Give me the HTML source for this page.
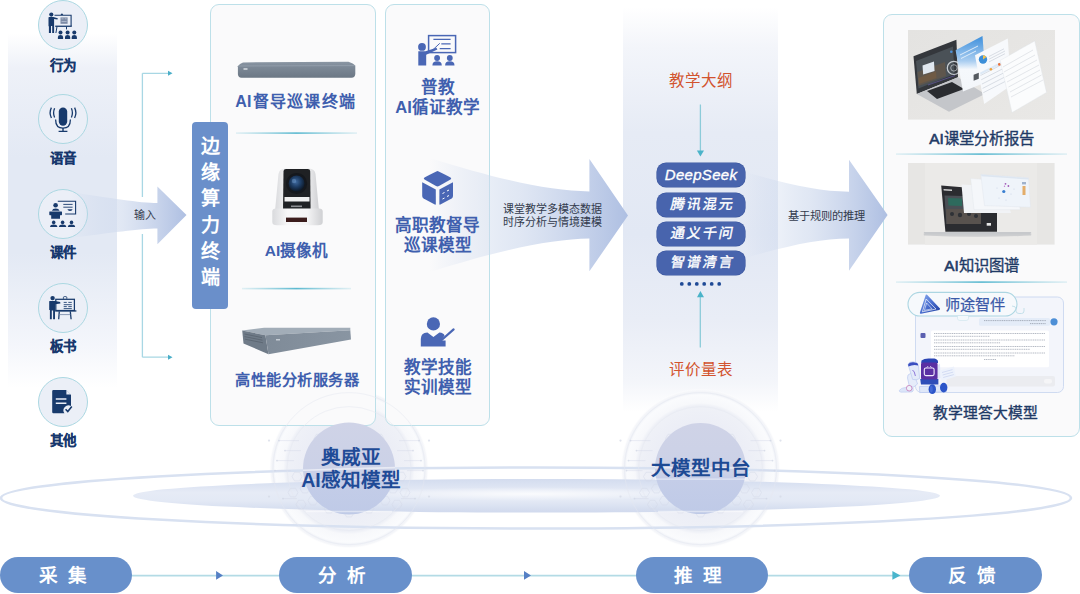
<!DOCTYPE html>
<html lang="zh-CN">
<head>
<meta charset="utf-8">
<style>
*{margin:0;padding:0;box-sizing:border-box;}
html,body{width:1080px;height:594px;overflow:hidden;background:#fff;}
body{position:relative;font-family:"Liberation Sans",sans-serif;}
.a{position:absolute;}
.t{position:absolute;white-space:nowrap;line-height:1;}
.lbl{font-size:13.5px;font-weight:700;color:#17376d;-webkit-text-stroke:0.15px #17376d;text-align:center;width:60px;}
.circ{position:absolute;width:50px;height:50px;border-radius:50%;background:#ebeff7;border:1.8px solid #abd8e2;}
.box{position:absolute;border:1.5px solid #bde0e9;border-radius:9px;background:#fafafb;}
.dev{font-size:15.5px;font-weight:700;color:#3f5fae;text-align:center;}
.mdl{font-size:16.6px;font-weight:700;color:#3f5fae;text-align:center;line-height:20.6px;}
.pill{position:absolute;left:657px;width:88px;height:24px;border-radius:9px;background:#4864ad;color:#fff;font-size:14px;font-weight:400;text-align:center;line-height:22.5px;letter-spacing:2px;text-indent:2px;-webkit-text-stroke:0.4px #fff;box-shadow:0 0 0 0.6px #3d58a0;}
.pill span{display:inline-block;transform:skewX(-11deg);}
.stage{position:absolute;top:557px;height:36px;border-radius:18px;background:#6890cb;color:#fff;font-size:18.5px;font-weight:700;text-align:center;line-height:38.5px;letter-spacing:10px;text-indent:3.4px;}
.rt{font-size:14.5px;font-weight:400;color:#1f3a66;text-align:center;-webkit-text-stroke:0.35px #1f3a66;}
.rt b{font-weight:400;-webkit-text-stroke:0.6px #1f3a66;}
</style>
</head>
<body>

<!-- left panel gradient -->
<div class="a" style="left:8px;top:33px;width:109px;height:355px;background:linear-gradient(to bottom,#ffffff 0%,#eef1f8 10%,#e3e9f4 35%,#e3e9f4 62%,#f4f6fb 88%,#ffffff 100%);"></div>

<!-- center panel gradient -->
<div class="a" style="left:623px;top:7px;width:155px;height:405px;background:linear-gradient(to bottom,#ffffff 0%,#f3f5fa 10%,#e6ebf5 31%,#e2e8f4 56%,#e9edf6 77%,#f3f5fa 92%,#ffffff 100%);"></div>

<!-- circles -->
<div class="circ" style="left:37.7px;top:-0.2px;"></div>
<div class="circ" style="left:37.7px;top:94.4px;"></div>
<div class="circ" style="left:37.7px;top:189px;"></div>
<div class="circ" style="left:37.7px;top:282.5px;"></div>
<div class="circ" style="left:37.7px;top:376.5px;"></div>

<div class="t lbl" style="left:33px;top:58.5px;">行为</div>
<div class="t lbl" style="left:33px;top:151.5px;">语音</div>
<div class="t lbl" style="left:33px;top:245.5px;">课件</div>
<div class="t lbl" style="left:33px;top:339.5px;">板书</div>
<div class="t lbl" style="left:33px;top:433.5px;">其他</div>


<!-- glow behind boxes -->
<svg class="a" style="left:0;top:0" width="1080" height="594" viewBox="0 0 1080 594">
<defs>
 <radialGradient id="glow0" cx="0.5" cy="0.5" r="0.5">
  <stop offset="0.58" stop-color="#eceef6"/>
  <stop offset="0.79" stop-color="#eff1f7"/>
  <stop offset="0.82" stop-color="#f7f8fb"/>
  <stop offset="0.92" stop-color="#fafbfd"/>
  <stop offset="0.95" stop-color="#f1f3f8"/>
  <stop offset="0.975" stop-color="#f6f7fa"/>
  <stop offset="1" stop-color="#ffffff" stop-opacity="0"/>
 </radialGradient>
</defs>
<circle cx="349" cy="468.6" r="80" fill="url(#glow0)"/>
<circle cx="700.5" cy="468.6" r="80" fill="url(#glow0)"/>
</svg>
<!-- boxes -->
<div class="box" style="left:209.5px;top:4px;width:166px;height:422px;"></div>
<div class="box" style="left:385px;top:4px;width:105px;height:422px;"></div>
<div class="box" style="left:883px;top:14px;width:197px;height:423px;"></div>

<!-- bottom rings (above boxes) -->
<svg class="a" style="left:0;top:0" width="1080" height="594" viewBox="0 0 1080 594">
<defs>
 <linearGradient id="orbg" x1="0" y1="0" x2="0" y2="1">
  <stop offset="0" stop-color="#cfd3e7"/>
  <stop offset="0.55" stop-color="#cbd1e7"/>
  <stop offset="0.62" stop-color="#c4cde8"/>
  <stop offset="1" stop-color="#bfcae7"/>
 </linearGradient>
 <linearGradient id="discg" x1="0" y1="0" x2="0" y2="1">
  <stop offset="0" stop-color="#d3dcef"/>
  <stop offset="0.4" stop-color="#e6ebf6"/>
  <stop offset="0.65" stop-color="#e3e9f5"/>
  <stop offset="1" stop-color="#d0d9ed"/>
 </linearGradient>
 <radialGradient id="hl" cx="0.5" cy="0.5" r="0.5">
  <stop offset="0" stop-color="#ffffff" stop-opacity="0.8"/>
  <stop offset="1" stop-color="#ffffff" stop-opacity="0"/>
 </radialGradient>
 <radialGradient id="glow" cx="0.5" cy="0.5" r="0.5">
  <stop offset="0.6" stop-color="#eef0f7"/>
  <stop offset="0.8" stop-color="#f1f3f8"/>
  <stop offset="0.82" stop-color="#f6f7fb"/>
  <stop offset="0.97" stop-color="#f8f9fc"/>
  <stop offset="1" stop-color="#ffffff" stop-opacity="0"/>
 </radialGradient>
</defs>
<ellipse cx="536.5" cy="495.8" rx="403.5" ry="16.8" fill="url(#discg)"/>
<ellipse cx="530" cy="494" rx="170" ry="7" fill="url(#hl)"/>
<ellipse cx="536" cy="498" rx="535" ry="30.5" fill="none" stroke="#d8e1f1" stroke-width="2.6"/>
<g fill="none" stroke="#e6e9f2" stroke-width="1" opacity="0.5">
 <circle cx="349" cy="468.6" r="62"/><circle cx="349" cy="468.6" r="76"/>
 <circle cx="700.5" cy="468.6" r="62"/><circle cx="700.5" cy="468.6" r="76"/>
</g>
<g fill="none" stroke="#d3d9e7" stroke-width="0.6" opacity="0.75">
<polygon points="302.0,476.6 299.5,480.9 294.5,480.9 292.0,476.6 294.5,472.3 299.5,472.3"/>
<polygon points="310.0,488.6 307.5,492.9 302.5,492.9 300.0,488.6 302.5,484.3 307.5,484.3"/>
<polygon points="298.0,492.6 295.5,496.9 290.5,496.9 288.0,492.6 290.5,488.3 295.5,488.3"/>
<polygon points="318.0,500.6 315.5,504.9 310.5,504.9 308.0,500.6 310.5,496.3 315.5,496.3"/>
<polygon points="306.0,504.6 303.5,508.9 298.5,508.9 296.0,504.6 298.5,500.3 303.5,500.3"/>
<polygon points="398.0,488.6 395.5,492.9 390.5,492.9 388.0,488.6 390.5,484.3 395.5,484.3"/>
<polygon points="406.0,476.6 403.5,480.9 398.5,480.9 396.0,476.6 398.5,472.3 403.5,472.3"/>
<polygon points="410.0,492.6 407.5,496.9 402.5,496.9 400.0,492.6 402.5,488.3 407.5,488.3"/>
<polygon points="390.0,500.6 387.5,504.9 382.5,504.9 380.0,500.6 382.5,496.3 387.5,496.3"/>
<polygon points="402.0,504.6 399.5,508.9 394.5,508.9 392.0,504.6 394.5,500.3 399.5,500.3"/>
<polygon points="334.0,508.6 331.5,512.9 326.5,512.9 324.0,508.6 326.5,504.3 331.5,504.3"/>
<polygon points="374.0,508.6 371.5,512.9 366.5,512.9 364.0,508.6 366.5,504.3 371.5,504.3"/>
<polygon points="354.0,512.6 351.5,516.9 346.5,516.9 344.0,512.6 346.5,508.3 351.5,508.3"/>
<polygon points="324.0,438.6 321.5,442.9 316.5,442.9 314.0,438.6 316.5,434.3 321.5,434.3"/>
<polygon points="384.0,438.6 381.5,442.9 376.5,442.9 374.0,438.6 376.5,434.3 381.5,434.3"/>
<polygon points="653.5,476.6 651.0,480.9 646.0,480.9 643.5,476.6 646.0,472.3 651.0,472.3"/>
<polygon points="661.5,488.6 659.0,492.9 654.0,492.9 651.5,488.6 654.0,484.3 659.0,484.3"/>
<polygon points="649.5,492.6 647.0,496.9 642.0,496.9 639.5,492.6 642.0,488.3 647.0,488.3"/>
<polygon points="669.5,500.6 667.0,504.9 662.0,504.9 659.5,500.6 662.0,496.3 667.0,496.3"/>
<polygon points="657.5,504.6 655.0,508.9 650.0,508.9 647.5,504.6 650.0,500.3 655.0,500.3"/>
<polygon points="749.5,488.6 747.0,492.9 742.0,492.9 739.5,488.6 742.0,484.3 747.0,484.3"/>
<polygon points="757.5,476.6 755.0,480.9 750.0,480.9 747.5,476.6 750.0,472.3 755.0,472.3"/>
<polygon points="761.5,492.6 759.0,496.9 754.0,496.9 751.5,492.6 754.0,488.3 759.0,488.3"/>
<polygon points="741.5,500.6 739.0,504.9 734.0,504.9 731.5,500.6 734.0,496.3 739.0,496.3"/>
<polygon points="753.5,504.6 751.0,508.9 746.0,508.9 743.5,504.6 746.0,500.3 751.0,500.3"/>
<polygon points="685.5,508.6 683.0,512.9 678.0,512.9 675.5,508.6 678.0,504.3 683.0,504.3"/>
<polygon points="725.5,508.6 723.0,512.9 718.0,512.9 715.5,508.6 718.0,504.3 723.0,504.3"/>
<polygon points="705.5,512.6 703.0,516.9 698.0,516.9 695.5,512.6 698.0,508.3 703.0,508.3"/>
<polygon points="675.5,438.6 673.0,442.9 668.0,442.9 665.5,438.6 668.0,434.3 673.0,434.3"/>
<polygon points="735.5,438.6 733.0,442.9 728.0,442.9 725.5,438.6 728.0,434.3 733.0,434.3"/>
<path d="M299.0 440.6 H279.0"/>
<circle cx="279.0" cy="440.6" r="0.9" fill="#d0d6e4" stroke="none"/>
<path d="M301.0 450.6 H285.0"/>
<circle cx="285.0" cy="450.6" r="0.9" fill="#d0d6e4" stroke="none"/>
<path d="M294.0 460.6 H277.0"/>
<circle cx="277.0" cy="460.6" r="0.9" fill="#d0d6e4" stroke="none"/>
<path d="M291.0 470.6 H275.0"/>
<circle cx="275.0" cy="470.6" r="0.9" fill="#d0d6e4" stroke="none"/>
<path d="M297.0 498.6 H283.0"/>
<circle cx="283.0" cy="498.6" r="0.9" fill="#d0d6e4" stroke="none"/>
<path d="M399.0 440.6 H419.0"/>
<circle cx="419.0" cy="440.6" r="0.9" fill="#d0d6e4" stroke="none"/>
<path d="M397.0 450.6 H413.0"/>
<circle cx="413.0" cy="450.6" r="0.9" fill="#d0d6e4" stroke="none"/>
<path d="M404.0 460.6 H421.0"/>
<circle cx="421.0" cy="460.6" r="0.9" fill="#d0d6e4" stroke="none"/>
<path d="M407.0 470.6 H423.0"/>
<circle cx="423.0" cy="470.6" r="0.9" fill="#d0d6e4" stroke="none"/>
<path d="M401.0 498.6 H415.0"/>
<circle cx="415.0" cy="498.6" r="0.9" fill="#d0d6e4" stroke="none"/>
<circle cx="269.0" cy="440.6" r="1.1" fill="#d6dbe7" stroke="none"/>
<circle cx="429.0" cy="440.6" r="1.1" fill="#d6dbe7" stroke="none"/>
<circle cx="269.0" cy="496.6" r="1.1" fill="#d6dbe7" stroke="none"/>
<circle cx="429.0" cy="496.6" r="1.1" fill="#d6dbe7" stroke="none"/>
<path d="M650.5 440.6 H630.5"/>
<circle cx="630.5" cy="440.6" r="0.9" fill="#d0d6e4" stroke="none"/>
<path d="M652.5 450.6 H636.5"/>
<circle cx="636.5" cy="450.6" r="0.9" fill="#d0d6e4" stroke="none"/>
<path d="M645.5 460.6 H628.5"/>
<circle cx="628.5" cy="460.6" r="0.9" fill="#d0d6e4" stroke="none"/>
<path d="M642.5 470.6 H626.5"/>
<circle cx="626.5" cy="470.6" r="0.9" fill="#d0d6e4" stroke="none"/>
<path d="M648.5 498.6 H634.5"/>
<circle cx="634.5" cy="498.6" r="0.9" fill="#d0d6e4" stroke="none"/>
<path d="M750.5 440.6 H770.5"/>
<circle cx="770.5" cy="440.6" r="0.9" fill="#d0d6e4" stroke="none"/>
<path d="M748.5 450.6 H764.5"/>
<circle cx="764.5" cy="450.6" r="0.9" fill="#d0d6e4" stroke="none"/>
<path d="M755.5 460.6 H772.5"/>
<circle cx="772.5" cy="460.6" r="0.9" fill="#d0d6e4" stroke="none"/>
<path d="M758.5 470.6 H774.5"/>
<circle cx="774.5" cy="470.6" r="0.9" fill="#d0d6e4" stroke="none"/>
<path d="M752.5 498.6 H766.5"/>
<circle cx="766.5" cy="498.6" r="0.9" fill="#d0d6e4" stroke="none"/>
<circle cx="620.5" cy="440.6" r="1.1" fill="#d6dbe7" stroke="none"/>
<circle cx="780.5" cy="440.6" r="1.1" fill="#d6dbe7" stroke="none"/>
<circle cx="620.5" cy="496.6" r="1.1" fill="#d6dbe7" stroke="none"/>
<circle cx="780.5" cy="496.6" r="1.1" fill="#d6dbe7" stroke="none"/>
</g>
<circle cx="349" cy="468.6" r="46" fill="url(#orbg)"/>
<circle cx="700.5" cy="468.6" r="45.5" fill="url(#orbg)"/>
<g stroke="#ffffff" fill="none">
 <path d="M303 470.2 Q349 468.6 395 467.6 M655 467.8 Q700 467.6 746 468" stroke-opacity="0.55" stroke-width="1.6"/>
 <path d="M303 479.8 H395 M655 479.2 H746" stroke-opacity="0.5" stroke-width="1.3"/>
 <path d="M306 511.5 H392 M658 511.5 H743" stroke-opacity="0.45" stroke-width="1.4"/>
</g>
</svg>

<!-- main svg -->
<svg class="a" style="left:0;top:0" width="1080" height="594" viewBox="0 0 1080 594">
<defs>
 <linearGradient id="ag" x1="0" x2="1" y1="0" y2="0">
  <stop offset="0" stop-color="#c3d1ea" stop-opacity="0"/>
  <stop offset="0.45" stop-color="#d3ddef" stop-opacity="0.7"/>
  <stop offset="1" stop-color="#aebfe2"/>
 </linearGradient>
 <linearGradient id="dg" x1="0" x2="1">
  <stop offset="0" stop-color="#7cc6d8" stop-opacity="0.2"/>
  <stop offset="0.5" stop-color="#5bb9d0"/>
  <stop offset="1" stop-color="#7cc6d8" stop-opacity="0.2"/>
 </linearGradient>
</defs>
<!-- connector -->
<g stroke="#a8d7e4" stroke-width="1.3" fill="none">
 <path d="M142.4 73.3 V197 M142.4 234 V357.2 M142.4 73.3 H169 M142.4 357.2 H169"/>
</g>
<path d="M168 70.8 L172.5 73.3 L168 75.8Z M168 354.7 L172.5 357.2 L168 359.7Z" fill="#4aaec8"/>

<!-- arrow 1 -->
<path d="M70 192 C110 198,140 203,157.4 203 L157.4 186.4 L186.5 215 L157.4 244.2 L157.4 228.5 C140 228.5,110 233,70 238Z" fill="url(#ag)"/>
<!-- arrow 2 -->
<path d="M430 158 C500 180,550 191,589.4 191.5 L589.4 158.9 L628 215.5 L589.4 271.3 L589.4 238.4 C550 239,500 250,430 272Z" fill="url(#ag)"/>
<!-- arrow 3 -->
<path d="M745 172 C790 185,820 191.5,849 191.7 L849 159.7 L887.6 215 L849 270.7 L849 238.4 C820 238.6,790 245,745 258Z" fill="url(#ag)"/>

<!-- dividers box1 -->
<rect x="236" y="132.3" width="121" height="1.6" fill="url(#dg)"/>
<rect x="242" y="287.8" width="109" height="1.6" fill="url(#dg)"/>
<!-- dividers right -->
<rect x="896" y="153.3" width="171" height="1.6" fill="url(#dg)"/>
<rect x="896" y="281.3" width="171" height="1.6" fill="url(#dg)"/>

<!-- center arrows -->
<path d="M700.4 104.5 V151" stroke="#8ccbd9" stroke-width="1.3"/>
<path d="M696.9 150.6 L704 150.6 L700.4 156.6Z" fill="#4ab3c9"/>
<path d="M700.3 297 V347.6" stroke="#8ccbd9" stroke-width="1.3"/>
<path d="M697 297.3 L704 297.3 L700.4 290.9Z" fill="#4ab3c9"/>
<g fill="#1f4a96">
 <circle cx="681.8" cy="283.9" r="1.9"/><circle cx="689.3" cy="283.9" r="1.9"/><circle cx="696.8" cy="283.9" r="1.9"/>
 <circle cx="704.2" cy="283.9" r="1.9"/><circle cx="711.7" cy="283.9" r="1.9"/><circle cx="719.2" cy="283.9" r="1.9"/>
</g>

<!-- bottom line -->
<path d="M130 575.6 H910" stroke="#b3dbe5" stroke-width="1.8"/>
<path d="M216.1 571.1 L223 575.4 L216.1 579.7Z M524 571.1 L531 575.4 L524 579.7Z" fill="#5580c5"/>
<path d="M892.4 571.1 L900.4 575.4 L892.4 579.7Z" fill="#49b5cc"/>
</svg>


<!-- icons svg -->
<svg class="a" style="left:0;top:0" width="1080" height="594" viewBox="0 0 1080 594">
<g fill="#183a6c">
 <!-- icon1 behaviour -->
 <circle cx="51.3" cy="14.6" r="2.1"/>
 <path d="M48.5 17.4 Q48.5 16.9 49.2 16.9 H53.4 L57.8 18.2 L57.5 19.4 L54.1 19 V33 H52.2 V26 H51 V33 H48.9 V26.5 L48.5 26Z"/>
 <path d="M54.5 15.3 H71.1 V25.9" fill="none" stroke="#183a6c" stroke-width="1.1"/>
 <rect x="55.2" y="25.6" width="16.6" height="1.3"/>
 <path d="M60.6 15 Q61.9 12.2 63.2 15Z"/>
 <rect x="60.5" y="17.4" width="7.1" height="6.4" fill="#7d8ba6"/>
 <path d="M61.5 18.8 H63.5 M64.8 18.8 H66.6 M61.5 21.5 H66.6" stroke="#b8c2d4" stroke-width="0.8"/>
 <path d="M57 26.6 L55.9 33 M66.5 26.6 V29.4" stroke="#183a6c" stroke-width="1" fill="none"/>
 <circle cx="60.5" cy="32.6" r="2"/><circle cx="67.6" cy="32.6" r="2"/><circle cx="74.3" cy="32.6" r="2"/>
 <path d="M57.9 39 V37 Q57.9 35 60.5 35 Q63.1 35 63.1 37 V39Z M65 39 V37 Q65 35 67.6 35 Q70.2 35 70.2 37 V39Z M71.7 39 V37 Q71.7 35 74.3 35 Q76.9 35 76.9 37 V39Z"/>
 <!-- icon2 mic -->
 <rect x="58.8" y="107.4" width="8.4" height="18.4" rx="4.2"/>
 <path d="M55.6 119.5 Q55.6 128.2 63 128.2 Q70.4 128.2 70.4 119.5" fill="none" stroke="#183a6c" stroke-width="1.3"/>
 <path d="M63 128 V131 M58.6 131.4 H67.4" stroke="#183a6c" stroke-width="1.4"/>
 <path d="M54.6 108.2 Q52.6 112.8 54.6 117.4 M51.4 107.6 Q48.8 112.8 51.4 118 M71.4 108.2 Q73.4 112.8 71.4 117.4 M74.6 107.6 Q77.2 112.8 74.6 118" fill="none" stroke="#183a6c" stroke-width="1.3"/>
 <!-- icon3 courseware -->
 <path d="M57.8 201.3 H75.6 V214 H65.2" fill="none" stroke="#183a6c" stroke-width="1.1"/>
 <path d="M63.3 204.4 H72.6 M63.3 207.2 H72.6" stroke="#183a6c" stroke-width="0.9"/>
 <path d="M67.4 209.2 H72.6 Q72.2 211 70 211 Q68 211 67.4 209.2Z"/>
 <circle cx="55.6" cy="205.3" r="2.3"/>
 <path d="M51.9 210.8 Q52.5 208.6 55.7 208.6 Q58.9 208.6 59.6 210.8Z"/>
 <path d="M49.6 211.6 H61.6 Q62 211.6 62 212.2 V214.6 Q62 215.3 61.3 215.3 H60 V218.7 H51.2 V215.3 H49.9 Q49.3 215.3 49.3 214.6 V212.2 Q49.3 211.6 49.6 211.6Z"/>
 <circle cx="53.7" cy="222.4" r="1.8"/><circle cx="62.6" cy="222.4" r="1.8"/><circle cx="71.5" cy="222.4" r="1.8"/>
 <path d="M50 226.9 Q50.4 224.5 53.7 224.5 Q57 224.5 57.4 226.9Z M58.9 226.9 Q59.3 224.5 62.6 224.5 Q65.9 224.5 66.3 226.9Z M67.8 226.9 Q68.2 224.5 71.5 224.5 Q74.8 224.5 75.2 226.9Z"/>
 <!-- icon4 blackboard -->
 <circle cx="52.6" cy="298.1" r="2.2"/>
 <path d="M49.6 301 Q49.2 301 49.2 301.6 V310 H49.9 V319.2 H51.8 V310.5 H53.1 V319.2 H55 V304.3 L60.4 303.4 L60.2 302 L55.2 301Z"/>
 <rect x="55.8" y="299.3" width="18.6" height="11.2" fill="none" stroke="#183a6c" stroke-width="1.25"/>
 <rect x="55.2" y="310.3" width="21.2" height="1.3"/>
 <path d="M63.4 298.8 V297.6 Q63.4 296.6 64.4 296.6 H65.8 Q66.8 296.6 66.8 297.6 V298.8" fill="none" stroke="#183a6c" stroke-width="0.9"/>
 <path d="M63.7 302.4 H66.8 M68.3 302.4 H71.8 M63.7 304.7 H71.8 M63.7 306.6 H66.8 M68.3 306.6 H71.8 M63.7 308.6 H71.8" stroke="#183a6c" stroke-width="0.85"/>
 <path d="M59.3 311.4 L58.7 319.2 M70.3 311.4 L71.1 319.2" stroke="#183a6c" stroke-width="1.3" fill="none"/>
 <path d="M59.1 314.6 H70.5" stroke="#6f82a3" stroke-width="0.8"/>
 <!-- icon5 doc -->
 <path d="M53.4 390 H66.2 L71 394.8 V406 A5 5 0 0 0 64.4 413.2 H53.4 Q52.2 413.2 52.2 412 V391.2 Q52.2 390 53.4 390Z"/>
 <path d="M66.4 390 V394.6 H71" fill="#eaeef7"/>
 <path d="M55.8 399 H66.4 M55.8 403.2 H66.4" stroke="#eaeef7" stroke-width="1.6"/>
 <path d="M65.6 409.2 L67.8 411.6 L71.8 406.6" stroke="#183a6c" stroke-width="1.6" fill="none"/>
</g>
<g fill="#4a67b5">
 <!-- box2 icon1 -->
 <rect x="428.6" y="35.6" width="27" height="17" fill="none" stroke="#4a67b5" stroke-width="1.5"/>
 <path d="M433.4 39.3 H450.6 M441.3 43.9 H450.6 M439.7 48.6 H450.6" stroke="#4a67b5" stroke-width="1.3"/>
 <circle cx="422" cy="46.9" r="3.9"/>
 <path d="M418.3 51.2 H425.5 L436.4 47.8 L437.4 49.6 L426.2 54.8 V65.4 H418.3Z"/>
 <path d="M430 52.5 L439.8 43.3" stroke="#4a67b5" stroke-width="1"/>
 <circle cx="437.1" cy="58" r="2.9"/><circle cx="449.8" cy="58" r="2.9"/>
 <path d="M432.4 65.4 Q432.4 61.2 437.1 61.2 Q441.8 61.2 441.8 65.4Z M445.1 65.4 Q445.1 61.2 449.8 61.2 Q454.5 61.2 454.5 65.4Z"/>
 <!-- cube -->
 <path d="M437.5 171 Q438.5 171 450.5 177.6 Q452 178.6 450.5 179.6 L439 186 Q437.5 186.8 436 186 L424.5 179.6 Q423 178.6 424.5 177.6 Q436.5 171 437.5 171Z"/>
 <path d="M422.2 182.2 L435.8 189.6 V204 Q435.8 205 434.8 204.5 L423.6 198.4 Q422.2 197.6 422.2 196Z"/>
 <path d="M453 182.2 L439.4 189.6 V204 Q439.4 205 440.4 204.5 L451.6 198.4 Q453 197.6 453 196Z"/>
 <path d="M442.5 193.5 l2 -1 M447 191 l2 -1 M442.5 199 l2 -1 M447 196.5 l2 -1" stroke="#fff" stroke-width="1"/>
 <!-- teacher pointer -->
 <circle cx="433.4" cy="323.9" r="6.6"/>
 <path d="M420.8 346.4 V339 Q420.8 332.6 427.4 332.4 L433.4 337 L439.4 332.4 Q443.6 332.6 444.6 335.6 L441 340.4 L445.6 340.4 V346.4Z"/>
 <path d="M440.8 340.8 L453.6 329.4" stroke="#4a67b5" stroke-width="2.2" stroke-linecap="round"/>
</g>
</svg>


<!-- devices & right images -->
<svg class="a" style="left:0;top:0" width="1080" height="594" viewBox="0 0 1080 594">
<defs>
 <linearGradient id="dev1" x1="0" y1="0" x2="0" y2="1">
  <stop offset="0" stop-color="#8a96a3"/>
  <stop offset="0.3" stop-color="#7d8997"/>
  <stop offset="1" stop-color="#6c7885"/>
 </linearGradient>
 <linearGradient id="srvf" x1="0" y1="0" x2="1" y2="0">
  <stop offset="0" stop-color="#7f8b98"/>
  <stop offset="1" stop-color="#8995a2"/>
 </linearGradient>
 <linearGradient id="camw" x1="0" y1="0" x2="1" y2="0">
  <stop offset="0" stop-color="#d9dadd"/>
  <stop offset="0.3" stop-color="#f7f7f8"/>
  <stop offset="0.7" stop-color="#f4f4f5"/>
  <stop offset="1" stop-color="#cfd0d3"/>
 </linearGradient>
 <radialGradient id="lens" cx="0.45" cy="0.4" r="0.6">
  <stop offset="0" stop-color="#3f6aa0"/>
  <stop offset="0.55" stop-color="#1c3a60"/>
  <stop offset="1" stop-color="#0d1826"/>
 </radialGradient>
 <linearGradient id="img1" x1="0" y1="0" x2="1" y2="1">
  <stop offset="0" stop-color="#e4e3e1"/>
  <stop offset="1" stop-color="#e9e8e6"/>
 </linearGradient>
 <linearGradient id="bluep" x1="0" y1="0" x2="0" y2="1">
  <stop offset="0" stop-color="#3d8fdc"/>
  <stop offset="0.45" stop-color="#a9cdf0"/>
  <stop offset="0.6" stop-color="#f5f8fc"/>
  <stop offset="1" stop-color="#f3f6fa"/>
 </linearGradient>
</defs>
<!-- device 1: flat box -->
<path d="M243 62.4 L348.5 61.8 Q353.5 63.2 355.3 65.6 L355.3 74 Q355.1 77.6 351.5 77.7 L241.5 77.7 Q238 77.6 237.9 74 L237.9 66.2 Q239.5 63.4 243 62.4Z" fill="url(#dev1)"/>
<path d="M238.2 66 L355 65.6" stroke="#9aa5b1" stroke-width="0.7"/>
<rect x="243.5" y="68.3" width="4" height="1.4" fill="#dfe3e8"/>
<!-- camera -->
<path d="M275 211 L278.5 174 Q279.5 168.8 285 168.6 L309 168.6 Q314.5 168.8 315.5 174 L319 211Z" fill="url(#camw)"/>
<path d="M283.5 171 Q283.8 169 286 169 L307.8 169 Q310 169 310.2 171 L310.6 210.5 L283 210.5Z" fill="#1f2124"/>
<circle cx="296.6" cy="183.5" r="10.6" fill="#15181d"/>
<circle cx="296.6" cy="183.5" r="8" fill="url(#lens)"/>
<circle cx="294" cy="181" r="2.2" fill="#7ea7d6" opacity="0.4"/>
<rect x="284.5" y="197" width="25" height="4.5" fill="#f0f0f0"/>
<rect x="291" y="205.5" width="11" height="1.6" fill="#8d8f93"/>
<path d="M272.3 211.5 Q272.3 208.6 276 208.6 L319 208.6 Q322.7 208.6 322.7 211.5 L322.7 222 Q322.7 225.2 318 225.2 L277 225.2 Q272.3 225.2 272.3 222Z" fill="url(#camw)"/>
<rect x="286" y="217.6" width="21" height="4.4" fill="#3b1c1c"/>
<!-- server -->
<path d="M242.2 330.6 L264 327.8 L350.3 327.8 L350.3 330.2 L265.4 335.2Z" fill="#a2adb8"/>
<path d="M242.2 330.6 L265.4 335.2 L268.5 354.2 L243.5 343.5Z" fill="#6f7b88"/>
<path d="M265.4 335.2 L350.3 330.2 L351 339.5 L268.5 354.2Z" fill="url(#srvf)"/>
<path d="M244.5 334 L262 337.6 M244.5 336.6 L262.5 340.2 M245 339.2 L263 342.8" stroke="#59636e" stroke-width="0.8"/>
<rect x="276" y="339" width="4" height="1.5" fill="#c5ccd4"/>
<!-- right image 1 -->
<rect x="908" y="30" width="147" height="89.6" fill="url(#img1)"/>
<path d="M913.5 56.2 L956.4 39.8 L958 77.2 L916.8 94Z" fill="#34373c"/>
<path d="M916 61 L953 46.5 L954.5 74 L918.5 88.5Z" fill="#4a5157"/>
<path d="M917.5 72 L945 62 L946 76 L918.6 86Z" fill="#5e564d"/>
<path d="M918.5 78 L936 71.5 L936.5 78 L919 84Z" fill="#6f5a44"/>
<path d="M922.5 65.5 L934 61.6 L934.6 71 L923.2 74.6Z" fill="#dfe7ef"/>
<circle cx="953.9" cy="67.9" r="6.6" fill="none" stroke="#e9edf2" stroke-width="1.2" opacity="0.8"/>
<circle cx="953.9" cy="67.9" r="3.2" fill="none" stroke="#e9edf2" stroke-width="0.8" opacity="0.7"/>
<circle cx="951.3" cy="51.8" r="1.3" fill="#4d8fd6"/>
<path d="M928 85 L955 75.5" stroke="#7d6ccf" stroke-width="0.7" opacity="0.7"/>
<path d="M916.8 94 L958 77.2 L985 94 L949 111.7Z" fill="#c4c6ca"/>
<path d="M927 91 L952 82 L964 89 L937 99Z" fill="#2a2c30"/>
<path d="M955.6 50.3 L982.5 36 L985.9 82.2 L963 91.5Z" fill="url(#bluep)"/>
<path d="M975 55.3 L1007.8 38.5 L1011 85.6 L984.2 104Z" fill="#f7f9fc"/>
<circle cx="983" cy="59.5" r="4.2" fill="#3d8fd8"/>
<path d="M983 59.5 L983 55.3 A4.2 4.2 0 0 1 986.4 57.1Z" fill="#f2c14a"/>
<g stroke="#c3cad4" stroke-width="0.6">
<path d="M989 56.5 L1004 48.8 M989 59.2 L1005 51 M989 61.9 L1005 53.7"/>
<path d="M980.5 75.5 L1008 61.4 M981.2 79.8 L1008.5 65.8 M981.9 84.1 L1009 70.2 M982.6 88.4 L1009.5 74.6 M983.3 92.7 L1010 79"/>
</g>
<path d="M980.2 72.6 L1007.6 58.6 L1007.8 60.8 L980.4 74.8Z" fill="#dde9f6"/>
<circle cx="990.9" cy="69.2" r="1.3" fill="#f0a540"/>
<circle cx="999.3" cy="64.4" r="1.3" fill="#e8703a"/>
<rect x="973.6" y="74" width="5.2" height="6" fill="#555a60" transform="skewY(-20) translate(0 355)"/>
<path d="M960 55 L978 46 M961 58.5 L976 51" stroke="#e8f2fc" stroke-width="0.9"/>
<path d="M1000.2 60.4 L1034.7 41 L1046.5 92.4 L1012 112.6Z" fill="#fbfcfd" stroke="#dfe3e8" stroke-width="0.4"/>
<path d="M1003 67 L1033 50 M1004 72 L1035 55 M1005.5 77 L1037 60 M1007 82 L1039 65 M1008.5 87 L1040 70 M1010 92 L1041.5 75 M1011 97 L1043 80" stroke="#d3d7dd" stroke-width="0.6"/>
<!-- right image 2 -->
<rect x="908" y="163" width="146.6" height="81.6" fill="#e7e6e4"/>
<rect x="925" y="163" width="112" height="81.6" fill="#ebeae8"/>
<path d="M923.6 233.5 Q977 231 1031.4 233.5 L1031 235.6 Q977 238 924 235.6Z" fill="#b9bbbf" opacity="0.6"/>
<path d="M941.2 185.6 L962.3 187.3 L997 194 L997 231.8 L945.4 231.8Z" fill="#2b2c30"/>
<path d="M944.5 195.4 L981 196.5 L981 224 L946.4 224Z" fill="#4a4f55"/>
<path d="M948 198 L962 198.6 L962 206 L948.4 205.6Z" fill="#2e6a5d"/>
<path d="M946 209 L981 209 L981 224 L946.6 224Z" fill="#58524e"/>
<g fill="#2e3136"><circle cx="952" cy="214" r="2"/><circle cx="960" cy="215" r="2.2"/><circle cx="969" cy="214" r="2"/><circle cx="976" cy="216" r="2"/></g>
<rect x="986.7" y="223" width="4.3" height="2.7" fill="#e6e6e6"/>
<path d="M943.5 189 L952 189.6 L952 191 L943.7 190.6Z" fill="#cfcfcf"/>
<path d="M923.6 232 L1031.4 232 L1030 234.6 L925 234.6Z" fill="#c7c9cc"/>
<path d="M961.5 184.5 L1003 187 L1011 213 L964 213Z" fill="#f1f3f6"/>
<path d="M970.7 178.6 L1014 181.5 L1020.4 209.7 L974 209.7Z" fill="#f5f7fa" stroke="#e1e5ea" stroke-width="0.4"/>
<path d="M980.8 174.4 L1028.5 177.8 L1030.5 207.2 L984.5 205.6Z" fill="#eff4fa" stroke="#dde3ea" stroke-width="0.4"/>
<path d="M981.2 174.6 L1028.5 178 L1028.6 179.6 L981.3 176.3Z" fill="#dde6f1"/>
<circle cx="1003.8" cy="191.5" r="1.6" fill="#3a7fd0"/>
<circle cx="1005.5" cy="183.8" r="0.9" fill="#a05ab8"/><circle cx="1008.4" cy="186" r="0.9" fill="#a05ab8"/><circle cx="1004.5" cy="186.2" r="0.7" fill="#c07ad0"/>
<g fill="#c9d3e6"><circle cx="997" cy="188" r="0.6"/><circle cx="1011" cy="194" r="0.6"/><circle cx="999" cy="198" r="0.6"/><circle cx="1014" cy="189" r="0.6"/><circle cx="1006" cy="200" r="0.6"/></g>
<rect x="1022.5" y="186" width="3" height="9" fill="#e0a050" opacity="0.85"/>
<rect x="1022" y="182" width="4" height="2.4" fill="#9fb2cc"/>
</svg>


<!-- chat window -->
<svg class="a" style="left:0;top:0" width="1080" height="594" viewBox="0 0 1080 594">
<defs>
 <linearGradient id="logo" x1="0" y1="0" x2="1" y2="1">
  <stop offset="0" stop-color="#8fb0f0"/>
  <stop offset="0.5" stop-color="#4a6fd0"/>
  <stop offset="1" stop-color="#1c3a9a"/>
 </linearGradient>
 <linearGradient id="robw" x1="0" y1="0" x2="1" y2="1">
  <stop offset="0" stop-color="#ffffff"/>
  <stop offset="1" stop-color="#c9d6f0"/>
 </linearGradient>
</defs>
<rect x="915.5" y="297" width="148" height="95.5" rx="6" fill="#f3f5fb" stroke="#c9d7ef" stroke-width="0.9"/>
<rect x="979" y="318" width="71" height="7.7" rx="1.5" fill="#e4ecf8"/>
<path d="M984 320.6 H1046 M1030 323.6 H1046" stroke="#959dab" stroke-width="0.8" stroke-dasharray="1.2 0.6"/>
<circle cx="1054" cy="321.8" r="3.6" fill="#4d8fd6"/>
<rect x="931" y="330.5" width="118" height="36.8" rx="1.5" fill="#ffffff"/>
<g stroke="#a3aab6" stroke-width="0.8" stroke-dasharray="1.2 0.6">
 <path d="M934 333.5 H1045 M934 336.3 H990"/>
 <path d="M934 340 H1045 M934 342.8 H1000"/>
 <path d="M934 346.5 H1045 M934 349.3 H1030"/>
 <path d="M934 353 H1045 M934 355.8 H1015"/>
 <path d="M984 359.5 H996"/>
</g>
<rect x="920.5" y="333" width="5" height="5" rx="1" fill="#5a5fb0"/>
<rect x="946.5" y="376" width="108.5" height="10.6" rx="2" fill="#ebecf0"/>
<rect x="1044" y="379" width="8" height="4.5" rx="2" fill="#f5f5f7"/>
<!-- pill -->
<rect x="908" y="292.4" width="109" height="23.6" rx="11.8" fill="#f6f9fc" stroke="#acd6e2" stroke-width="1.1"/>
<path d="M925.8 294.8 Q926.6 294.2 927.3 295 L940 308.6 Q940.4 309.6 939.2 309.9 L921 313.8 Q919.6 314 919.9 312.6Z" fill="url(#logo)"/>
<path d="M926.2 299 L936 309 L922.4 311.8Z" fill="none" stroke="#ffffff" stroke-width="0.9" opacity="0.75"/>
<path d="M926.6 303 L932 308.8 L924.4 310.4Z" fill="none" stroke="#ffffff" stroke-width="0.8" opacity="0.7"/>
<path d="M1012 306 Q1016 306 1016 309 L1016 311 Q1016 313.5 1019 313.5 L1021.5 313.5 Q1024 313.5 1024 311 L1024 308" fill="none" stroke="#b9dbe6" stroke-width="0.8"/>
<path d="M957.5 316 L957.5 318.5 Q957.5 320.5 960 320.5 L966 320.5 Q968.5 320.5 968.5 318.5 L968.5 316" fill="#f4f8fc" stroke="#cde4ec" stroke-width="0.6"/>
<!-- robot -->
<path d="M899.2 390.5 Q901 387.6 906 387.4 L913 388 Q914 391.2 912 392 L901 392.2 Q899 391.8 899.2 390.5Z" fill="#dce5f8" stroke="#b3c3ee" stroke-width="0.5"/>
<path d="M908 375 Q910.5 372.5 914 373.5 L917.5 384 Q914 388.5 909.5 387 L907.5 378Z" fill="#e6ecfa" stroke="#b3c3ee" stroke-width="0.6"/>
<circle cx="909.2" cy="388.2" r="2.8" fill="#eef2fb" stroke="#c06bb0" stroke-width="0.7"/>
<path d="M908 364 Q909 361.6 913 361.8 L916.5 362.6 Q918.2 363.4 918.5 366 L919.6 378.6 Q916 380.6 912.6 379.4 Z" fill="#e3eaf9" stroke="#b3c3ee" stroke-width="0.6"/>
<path d="M908.1 364.6 Q909.5 361.8 913.5 362.2 L917 363 Q918.2 363.8 918.2 365.6 Q913.5 364 908.4 366.6Z" fill="#3a4fc0"/>
<path d="M912.5 370 Q914.6 371 915.4 376" fill="none" stroke="#7a5ad0" stroke-width="0.8"/>
<path d="M920.2 379 L938.4 379 L938.4 384.6 L921 384.6Z" fill="#2d4db8"/>
<path d="M921.5 360.6 Q924 358.4 928.5 358.4 L934.5 358.6 Q937.8 359.4 938 361.6 L938 363 L921.2 363Z" fill="#2a44b4"/>
<rect x="921" y="362.4" width="16.6" height="17.2" rx="1.6" fill="#5a2fa3"/>
<rect x="924.3" y="368" width="9.8" height="7.6" rx="1.6" fill="none" stroke="#f1eafd" stroke-width="1.1"/>
<path d="M926.8 367.6 L928.2 366 M931.6 367.6 L930.2 366" stroke="#f1eafd" stroke-width="0.8"/>
<path d="M938 365 L940 363.5 L940.5 378 L938 379Z" fill="#dfe6f9"/>
<path d="M939.6 370.5 L954 366.4 L955.8 376.6 L941.5 381Z" fill="#edf2fc"/>
<path d="M942 372.5 L952.5 369.6 M942.6 375 L953.2 372.1 M943.2 377.5 L953.8 374.6" stroke="#b8c5e8" stroke-width="0.5"/>
<path d="M919.4 386.6 L946 385.6 L946.4 391.8 L919.8 392.6Z" fill="#dfe7f8" stroke="#b3c3ee" stroke-width="0.6"/>
<ellipse cx="932.3" cy="389.2" rx="3.7" ry="4.9" fill="#2c55c8"/>
<ellipse cx="943.7" cy="387.6" rx="3.7" ry="4.9" fill="#2c55c8"/>
<ellipse cx="931.3" cy="389.2" rx="1.4" ry="3.2" fill="#4a72dc" opacity="0.7"/>
</svg>
<div class="t" style="left:945px;top:296.8px;font-size:15.2px;font-weight:400;color:#3b5aa8;-webkit-text-stroke:0.25px #3b5aa8;">师途智伴</div>

<!-- blue vertical box -->
<div class="a" style="left:192px;top:122px;width:36px;height:186.5px;background:#6a8fca;border-radius:4px;"></div>
<div class="t" style="left:192px;top:133.8px;width:36px;text-align:center;color:#fff;font-size:19px;font-weight:700;line-height:26.3px;white-space:normal;">边<br>缘<br>算<br>力<br>终<br>端</div>

<div class="t" style="left:133.5px;top:209.5px;font-size:11px;color:#333b4d;">输入</div>
<div class="t" style="left:502.5px;top:203px;font-size:11px;color:#333b4d;line-height:12.5px;">课堂教学多模态数据<br>时序分析与情境建模</div>
<div class="t" style="left:788px;top:210.5px;font-size:11.25px;color:#333b4d;">基于规则的推理</div>

<!-- device labels -->
<div class="t dev" style="left:215.1px;top:94.3px;width:160px;font-size:16px;letter-spacing:1.25px;text-indent:1.25px;"><span style="letter-spacing:0.2px">A</span>I督导巡课终端</div>
<div class="t dev" style="left:216.6px;top:243px;width:160px;font-size:15.5px;">AI摄像机</div>
<div class="t dev" style="left:217px;top:372.3px;width:160px;font-size:15.2px;letter-spacing:0.45px;text-indent:0.45px;">高性能分析服务器</div>

<div class="t mdl" style="left:385px;top:77.8px;width:105px;">普教<br>AI循证教学</div>
<div class="t mdl" style="left:385px;top:215.8px;width:105px;">高职教督导<br>巡课模型</div>
<div class="t mdl" style="left:385px;top:357.8px;width:105px;">教学技能<br>实训模型</div>

<!-- center texts -->
<div class="t" style="left:623px;top:73.2px;width:155px;text-align:center;font-size:15.5px;color:#d2532e;">教学大纲</div>
<div class="t" style="left:623px;top:362.2px;width:155px;text-align:center;font-size:15.5px;color:#d2532e;">评价量表</div>

<div class="pill" style="top:163px;font-style:italic;font-weight:400;font-size:15px;letter-spacing:0.3px;text-indent:0;line-height:24px;-webkit-text-stroke:0.35px #fff;">DeepSeek</div>
<div class="pill" style="top:192.5px;"><span>腾讯混元</span></div>
<div class="pill" style="top:221.5px;"><span>通义千问</span></div>
<div class="pill" style="top:250.5px;"><span>智谱清言</span></div>

<!-- right texts -->
<div class="t rt" style="left:883px;top:131px;width:197px;font-size:15.4px;"><b>AI</b>课堂分析报告</div>
<div class="t rt" style="left:883px;top:258px;width:197px;font-size:15.4px;"><b>AI</b>知识图谱</div>
<div class="t rt" style="left:887px;top:406px;width:197px;font-size:14.8px;">教学理答大模型</div>


<div class="t" style="left:292px;top:445.5px;width:118px;text-align:center;font-size:19.6px;font-weight:700;color:#1f4b97;line-height:23.7px;white-space:normal;">奥威亚<br>AI感知模型</div>
<div class="t" style="left:640px;top:459px;width:121px;text-align:center;font-size:19.5px;font-weight:700;color:#1d4a94;">大模型中台</div>

<!-- stages -->
<div class="stage" style="left:0;width:132px;">采集</div>
<div class="stage" style="left:279px;width:133px;">分析</div>
<div class="stage" style="left:635.5px;width:132.5px;">推理</div>
<div class="stage" style="left:909px;width:132.5px;">反馈</div>

</body>
</html>
